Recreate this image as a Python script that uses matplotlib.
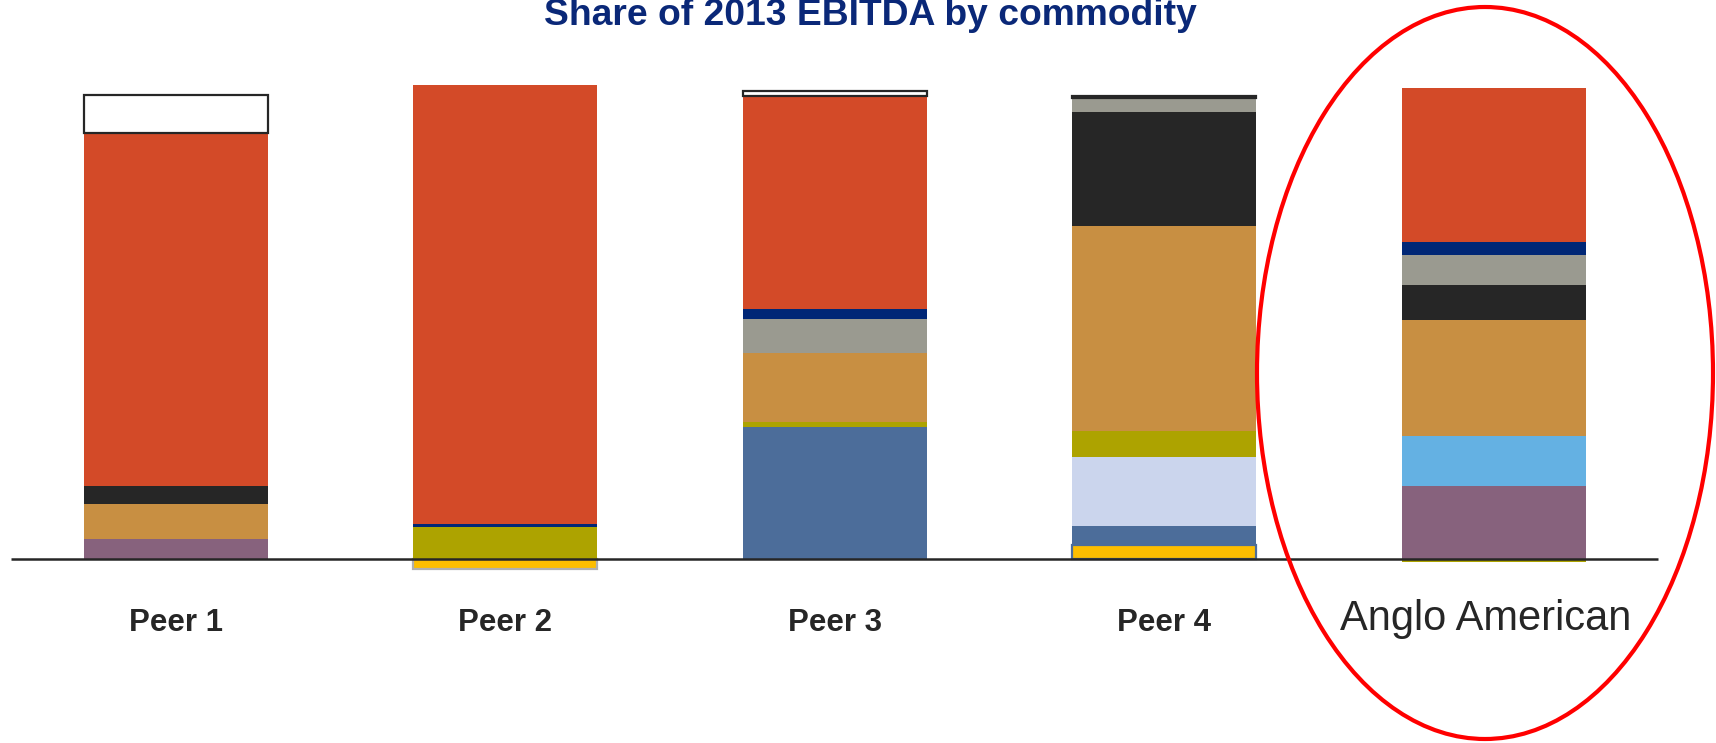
import matplotlib
matplotlib.use('Agg')
import matplotlib.pyplot as plt
from matplotlib.patches import Ellipse
import numpy as np

plt.rcParams['font.family'] = ['Liberation Sans', 'DejaVu Sans']

companies = ['Peer 1', 'Peer 2', 'Peer 3', 'Peer 4', 'Anglo American']

# share of 2013 EBITDA (%) per commodity, listed from the bottom of the stack up
# negative values hang below the zero line
yellow_share = [0, -2.0, 0, 3.1, 0]
steelblue_share = [0, 0, 28.4, 4.1, 0]
lavender_share = [0, 0, 0, 14.8, 0]
purple_share = [4.5, 0, 0, 0, 15.8]
lightblue_share = [0, 0, 0, 0, 10.8]
olive_share = [0, 7.0, 1.2, 5.7, -0.6]
copper_share = [7.5, 0, 14.9, 44.0, 25.0]
coal_share = [3.9, 0, 0, 24.5, 7.5]
gray_share = [0, 0, 7.2, 3.1, 6.4]
navy_share = [0, 0.6, 2.2, 0, 2.7]
iron_share = [75.8, 94.4, 45.7, 0, 33.1]
other_share = [8.2, 0, 1.2, 0.4, 0]

# (values, fill, edge per bar, edge width)
segments = [
    (yellow_share, '#FDBE00', ['none', '#B0B0B0', 'none', '#4C6D9A', 'none'], 1.6),
    (steelblue_share, '#4C6D9A', ['none'] * 5, 0),
    (lavender_share, '#CBD5ED', ['none'] * 5, 0),
    (purple_share, '#87627D', ['none'] * 5, 0),
    (lightblue_share, '#64B1E3', ['none'] * 5, 0),
    (olive_share, '#ADA300', ['none'] * 5, 0),
    (copper_share, '#C88F42', ['none'] * 5, 0),
    (coal_share, '#262626', ['none'] * 5, 0),
    (gray_share, '#9A9A90', ['none'] * 5, 0),
    (navy_share, '#002776', ['none'] * 5, 0),
    (iron_share, '#D34A28', ['none'] * 5, 0),
    (other_share, '#FFFFFF', ['#262626'] * 5, 1.6),
]

fig = plt.figure(figsize=(17.16, 7.43), dpi=100)
ax = fig.add_axes([0, 0, 1, 1])

x = np.arange(len(companies))
pos_bottom = np.zeros(len(companies))
neg_bottom = np.zeros(len(companies))

for vals, color, edges, lw in segments:
    vals = np.array(vals, dtype=float)
    bottom = np.where(vals >= 0, pos_bottom, neg_bottom)
    mask = vals != 0  # skip empty segments so no stray edge lines get drawn
    ax.bar(x[mask], vals[mask], 0.559, bottom=bottom[mask], color=color,
           edgecolor=[e for e, m in zip(edges, mask) if m], linewidth=lw, zorder=2)
    pos_bottom += np.clip(vals, 0, None)
    neg_bottom += np.clip(vals, None, 0)

# zero line across the chart
ax.plot([-0.5, 4.5], [0, 0], color='#262626', lw=1.8, zorder=3, solid_capstyle='butt')

# company labels
for i, name in enumerate(companies):
    if name == 'Anglo American':
        ax.text(i - 0.024, -15.2, name, ha='center', va='baseline',
                fontsize=30, color='#262626')
    else:
        ax.text(i, -15.4, name, ha='center', va='baseline',
                fontsize=22.5, fontweight='bold', color='#262626')

ax.set_xlim(-0.534, 4.675)
ax.set_ylim(-39.46, 120.3)
ax.axis('off')

fig.text(0.507, 1 - 25 / 743, 'Share of 2013 EBITDA by commodity', ha='center',
         va='baseline', fontsize=26.8, fontweight='bold', color='#0A2878')

# red ring around Anglo American
ring = Ellipse((1485 / 1716, 1 - 373 / 743), 456 / 1716, 732 / 743,
               transform=fig.transFigure, fill=False, edgecolor='#FF0000', lw=3)
fig.add_artist(ring)

fig.savefig('out.png', dpi=100)
